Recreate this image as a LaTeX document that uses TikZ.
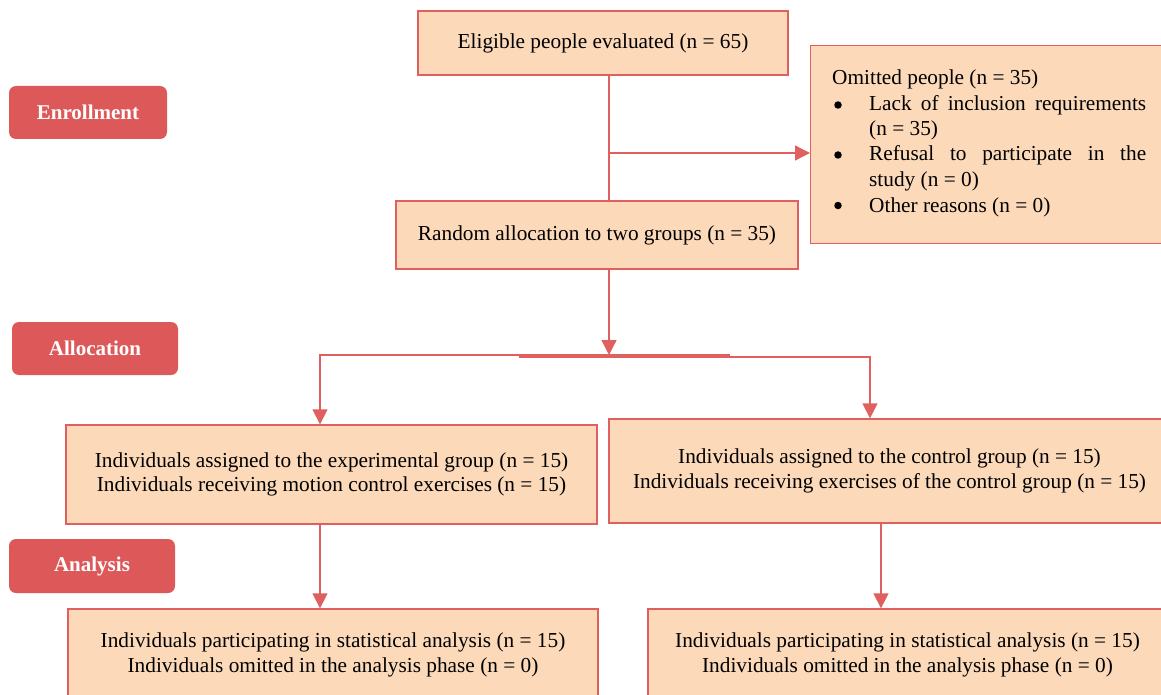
\documentclass[tikz,border=0pt]{standalone}
\usepackage{fontspec}
\setmainfont{Liberation Serif}
\usetikzlibrary{arrows.meta}
\definecolor{peach}{RGB}{252,217,185}
\definecolor{bord}{RGB}{224,96,96}
\definecolor{lab}{RGB}{221,89,89}
\begin{document}
\begin{tikzpicture}[x=1pt,y=-1pt,
 box/.style={draw=bord, fill=peach, line width=1.3pt, inner sep=0pt, align=center, font=\fontsize{21.3}{24.5}\selectfont},
 lbl/.style={fill=lab, rounded corners=7pt, text=white, font=\fontsize{21}{24}\selectfont\bfseries, inner sep=0pt},
 conn/.style={draw=bord, line width=1.3pt},
 arr/.style={conn, -{Triangle[length=15pt,width=15pt]}},
 dot/.style={circle, fill=black, inner sep=0pt, minimum size=7.5pt},
 txt/.style={anchor=base west, inner sep=0pt, font=\fontsize{21.3}{24}\selectfont}]
\useasboundingbox (0,0) rectangle (1161,695);

% stage labels
\node[lbl, minimum width=158pt, minimum height=53pt] (enr) at (88,112.5) {Enrollment};
\node[lbl, minimum width=166pt, minimum height=53pt] (alo) at (95,348.5) {Allocation};
\node[lbl, minimum width=166pt, minimum height=54pt] (ana) at (92,566) {Analysis};

% boxes
\node[box, minimum width=370pt, minimum height=64pt] (elig) at (603,43) {Eligible people evaluated (n = 65)};
\node[box, minimum width=360pt, minimum height=198pt, anchor=north west] (omit) at (810,45) {};
\node[box, minimum width=402pt, minimum height=68pt] (rand) at (597,235) {Random allocation to two groups (n = 35)};
\node[box, minimum width=531pt, minimum height=99pt] (exp) at (331.5,474.5) {Individuals assigned to the experimental group (n = 15)\\Individuals receiving motion control exercises (n = 15)};
\node[box, minimum width=561pt, minimum height=104pt] (ctrl) at (889.5,471) {Individuals assigned to the control group (n = 15)\\Individuals receiving exercises of the control group (n = 15)};
\node[box, minimum width=530pt, minimum height=92pt] (an1) at (333,655) {Individuals participating in statistical analysis (n = 15)\\Individuals omitted in the analysis phase (n = 0)};
\node[box, minimum width=519pt, minimum height=92pt] (an2) at (907.5,655) {Individuals participating in statistical analysis (n = 15)\\Individuals omitted in the analysis phase (n = 0)};

% omitted box text
\node[txt] (o0) at (832,85) {Omitted people (n = 35)};
\node[dot] (b1) at (838,105) {};
\node[txt] (o1) at (869,111) {\hbox to 277pt{Lack\hfill of\hfill inclusion\hfill requirements}};
\node[txt] (o2) at (869,136) {(n = 35)};
\node[dot] (b2) at (838,155) {};
\node[txt] (o3) at (869,161) {\hbox to 277pt{Refusal\hfill to\hfill participate\hfill in\hfill the}};
\node[txt] (o4) at (869,186) {study (n = 0)};
\node[dot] (b3) at (838,205.5) {};
\node[txt] (o5) at (869,212) {Other reasons (n = 0)};

% connectors
\coordinate (sp) at (609,0);
\coordinate (br) at (609,153);
\coordinate (mid) at (609,355);
\coordinate (lA) at (730,355);
\coordinate (lB) at (320,355);
\coordinate (rA) at (519,357);
\coordinate (rB) at (870,357);
\draw[conn] (elig.south -| sp) -- (rand.north -| sp);
\draw[arr] (br) -- (br -| omit.west);
\draw[arr] (rand.south -| sp) -- (mid);
\draw[arr] (lA) -- (lB) -- (exp.north -| lB);
\draw[arr] (rA) -- (rB) -- (ctrl.north -| rB);
\coordinate (dl) at (320,0);
\coordinate (dr) at (881,0);
\draw[arr] (exp.south -| dl) -- (an1.north -| dl);
\draw[arr] (ctrl.south -| dr) -- (an2.north -| dr);
\end{tikzpicture}
\end{document}
